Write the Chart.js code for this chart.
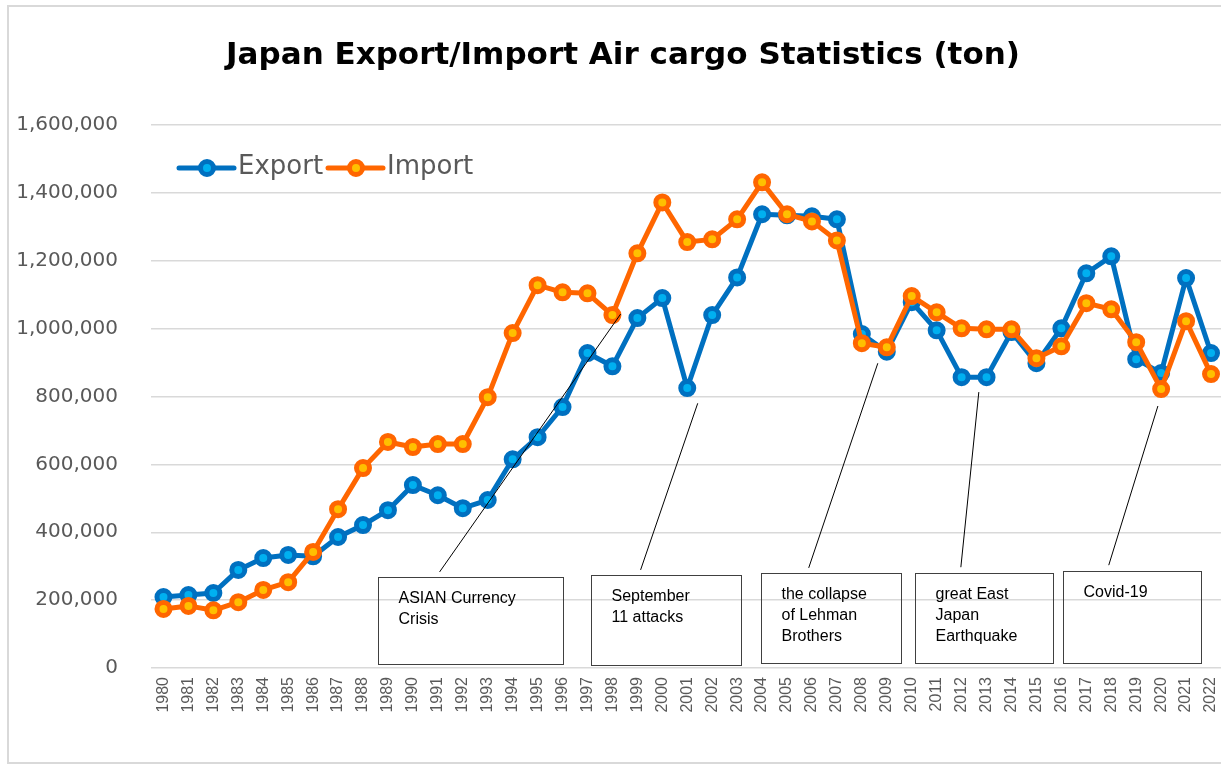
<!DOCTYPE html>
<html>
<head>
<meta charset="utf-8">
<script src="https://cdn.jsdelivr.net/npm/chart.js@4.4.1/dist/chart.umd.min.js"></script>
<style>
  html, body { margin: 0; padding: 0; background: #fff; }
  #wrap { position: relative; width: 1221px; height: 765px; }
</style>
</head>
<body>
<div id="wrap"><canvas id="cargo-chart"></canvas></div>
<script>
// data (tons)
const years = [1980, 1981, 1982, 1983, 1984, 1985, 1986, 1987, 1988, 1989,
  1990, 1991, 1992, 1993, 1994, 1995, 1996, 1997, 1998, 1999,
  2000, 2001, 2002, 2003, 2004, 2005, 2006, 2007, 2008, 2009,
  2010, 2011, 2012, 2013, 2014, 2015, 2016, 2017, 2018, 2019,
  2020, 2021, 2022];

const exportTons = [209000, 215000, 221000, 289000, 324000, 333000, 329000, 386000, 421000, 465000,
  539000, 509000, 471000, 495000, 615000, 680000, 769000, 928000, 889000, 1031000,
  1090000, 825000, 1040000, 1151000, 1337000, 1334000, 1331000, 1322000, 984000, 932000,
  1078000, 995000, 857000, 857000, 990000, 898000, 1001000, 1163000, 1213000, 910000,
  869000, 1149000, 928000];

const importTons = [174000, 183000, 170000, 194000, 230000, 253000, 342000, 468000, 589000, 666000,
  651000, 660000, 660000, 798000, 987000, 1128000, 1107000, 1104000, 1040000, 1222000,
  1372000, 1255000, 1263000, 1322000, 1431000, 1337000, 1316000, 1260000, 957000, 945000,
  1096000, 1048000, 1001000, 998000, 998000, 913000, 948000, 1075000, 1057000, 960000,
  822000, 1022000, 866000];

const yTicks = [0, 200000, 400000, 600000, 800000, 1000000, 1200000, 1400000, 1600000];

const titleText = 'Japan Export/Import Air cargo Statistics (ton)';

// event call-outs: box corners and leader line ends, in axis units (year, tons)
const noteTexts = [
  ['ASIAN Currency', 'Crisis'],
  ['September', '11 attacks'],
  ['the collapse', 'of Lehman', 'Brothers'],
  ['great East', 'Japan', 'Earthquake'],
  ['Covid-19']
];
const noteBoxes = [
  [1988.62, 268000, 1996.0, 12000],
  [1997.13, 274000, 2003.14, 9000],
  [2003.95, 280000, 2009.56, 15000],
  [2010.12, 280000, 2015.66, 15000],
  [2016.06, 286000, 2021.6, 15000]
];
const noteLines = [
  [1991.07, 283000, 1998.33, 1043000],
  [1999.13, 289000, 2001.42, 780000],
  [2005.87, 295000, 2008.64, 898000],
  [2011.97, 297000, 2012.69, 813000],
  [2017.9, 303000, 2019.87, 772000]
];

const BLUE = '#0070C0', BLUE_FILL = '#00B0F0';
const ORANGE = '#FF6600', ORANGE_FILL = '#FFC000';
const GRAY_TEXT = '#595959';
const GRID = '#d9d9d9';

// outer frame + title (title sits a bit right of the canvas centre, like the original)
const framePlugin = {
  id: 'frame',
  beforeDraw(chart) {
    const ctx = chart.ctx;
    ctx.save();
    ctx.strokeStyle = GRID;
    ctx.lineWidth = 2;
    ctx.strokeRect(8, 6, 1300, 757);
    ctx.fillStyle = '#000';
    ctx.font = 'bold 31px "DejaVu Sans"';
    ctx.textAlign = 'center';
    ctx.textBaseline = 'middle';
    ctx.fillText(titleText, 623, 56);
    ctx.restore();
  }
};

// legend drawn inside the plot, top-left (line + marker + name)
const legendPlugin = {
  id: 'innerLegend',
  afterDraw(chart) {
    const ctx = chart.ctx;
    const items = [
      { name: 'Export', x: 179, line: BLUE, fill: BLUE_FILL },
      { name: 'Import', x: 328, line: ORANGE, fill: ORANGE_FILL }
    ];
    const y = 168;
    ctx.save();
    items.forEach(it => {
      ctx.strokeStyle = it.line;
      ctx.lineWidth = 5;
      ctx.lineCap = 'round';
      ctx.beginPath();
      ctx.moveTo(it.x, y);
      ctx.lineTo(it.x + 55, y);
      ctx.stroke();
      ctx.beginPath();
      ctx.arc(it.x + 28, y, 6.5, 0, Math.PI * 2);
      ctx.fillStyle = it.fill;
      ctx.fill();
      ctx.stroke();
      ctx.fillStyle = GRAY_TEXT;
      ctx.font = '26px "DejaVu Sans"';
      ctx.textBaseline = 'middle';
      ctx.textAlign = 'left';
      ctx.fillText(it.name, it.x + 59, y - 1);
    });
    ctx.restore();
  }
};

// call-out boxes with leader lines
const notesPlugin = {
  id: 'notes',
  afterDatasetsDraw(chart) {
    const ctx = chart.ctx;
    const xs = chart.scales.x, ys = chart.scales.y;
    ctx.save();
    noteLines.forEach(l => {
      ctx.strokeStyle = '#000';
      ctx.lineWidth = 1;
      ctx.beginPath();
      ctx.moveTo(xs.getPixelForValue(l[0]), ys.getPixelForValue(l[1]));
      ctx.lineTo(xs.getPixelForValue(l[2]), ys.getPixelForValue(l[3]));
      ctx.stroke();
    });
    noteBoxes.forEach((b, i) => {
      const x1 = Math.round(xs.getPixelForValue(b[0])) + 0.5;
      const y1 = Math.round(ys.getPixelForValue(b[1])) + 0.5;
      const x2 = Math.round(xs.getPixelForValue(b[2])) + 0.5;
      const y2 = Math.round(ys.getPixelForValue(b[3])) + 0.5;
      ctx.strokeStyle = '#404040';
      ctx.lineWidth = 1;
      ctx.strokeRect(x1, y1, x2 - x1, y2 - y1);
      ctx.fillStyle = '#000';
      ctx.font = '16px "Liberation Sans"';
      ctx.textBaseline = 'middle';
      ctx.textAlign = 'left';
      noteTexts[i].forEach((t, j) => {
        ctx.fillText(t, x1 + 20, y1 + 21 + j * 21);
      });
    });
    ctx.restore();
  }
};

const ctx = document.getElementById('cargo-chart').getContext('2d');
new Chart(ctx, {
  type: 'line',
  data: {
    labels: years,
    datasets: [
      {
        label: 'Export',
        data: exportTons,
        borderColor: BLUE,
        borderWidth: 5,
        pointRadius: 6.5,
        pointBorderWidth: 5,
        pointBackgroundColor: BLUE_FILL,
        pointBorderColor: BLUE,
        borderJoinStyle: 'round',
        clip: false,
        order: 1
      },
      {
        label: 'Import',
        data: importTons,
        borderColor: ORANGE,
        borderWidth: 5,
        pointRadius: 6.5,
        pointBorderWidth: 5,
        pointBackgroundColor: ORANGE_FILL,
        pointBorderColor: ORANGE,
        borderJoinStyle: 'round',
        clip: false,
        order: 0
      }
    ]
  },
  options: {
    responsive: true,
    maintainAspectRatio: false,
    animation: false,
    layout: { autoPadding: false, padding: { left: 0, right: 0, top: 125, bottom: 0 } },
    scales: {
      x: {
        type: 'linear',
        min: 1979.5,
        max: 2022.4,
        grid: { display: false, drawTicks: false },
        border: { display: false },
        afterBuildTicks: scale => { scale.ticks = years.map(v => ({ value: v })); },
        afterFit: scale => {
          scale.height = 97;
          scale.paddingLeft = 0;
          scale.paddingRight = 0;
        },
        ticks: {
          autoSkip: false,
          minRotation: 90,
          maxRotation: 90,
          padding: 9,
          color: GRAY_TEXT,
          font: { family: '"Liberation Sans"', size: 16 },
          callback: v => String(v)
        }
      },
      y: {
        min: 0,
        max: 1600000,
        afterBuildTicks: scale => { scale.ticks = yTicks.map(v => ({ value: v })); },
        afterFit: scale => { scale.width = 151; },
        grid: { color: GRID, lineWidth: 1.5, drawTicks: false },
        border: { display: false },
        ticks: {
          padding: 33,
          color: GRAY_TEXT,
          font: { family: '"DejaVu Sans"', size: 20 },
          callback: v => v.toLocaleString('en-US')
        }
      }
    },
    plugins: {
      legend: { display: false },
      tooltip: { enabled: false },
      title: { display: false }
    }
  },
  plugins: [framePlugin, notesPlugin, legendPlugin]
});
</script>
</body>
</html>
